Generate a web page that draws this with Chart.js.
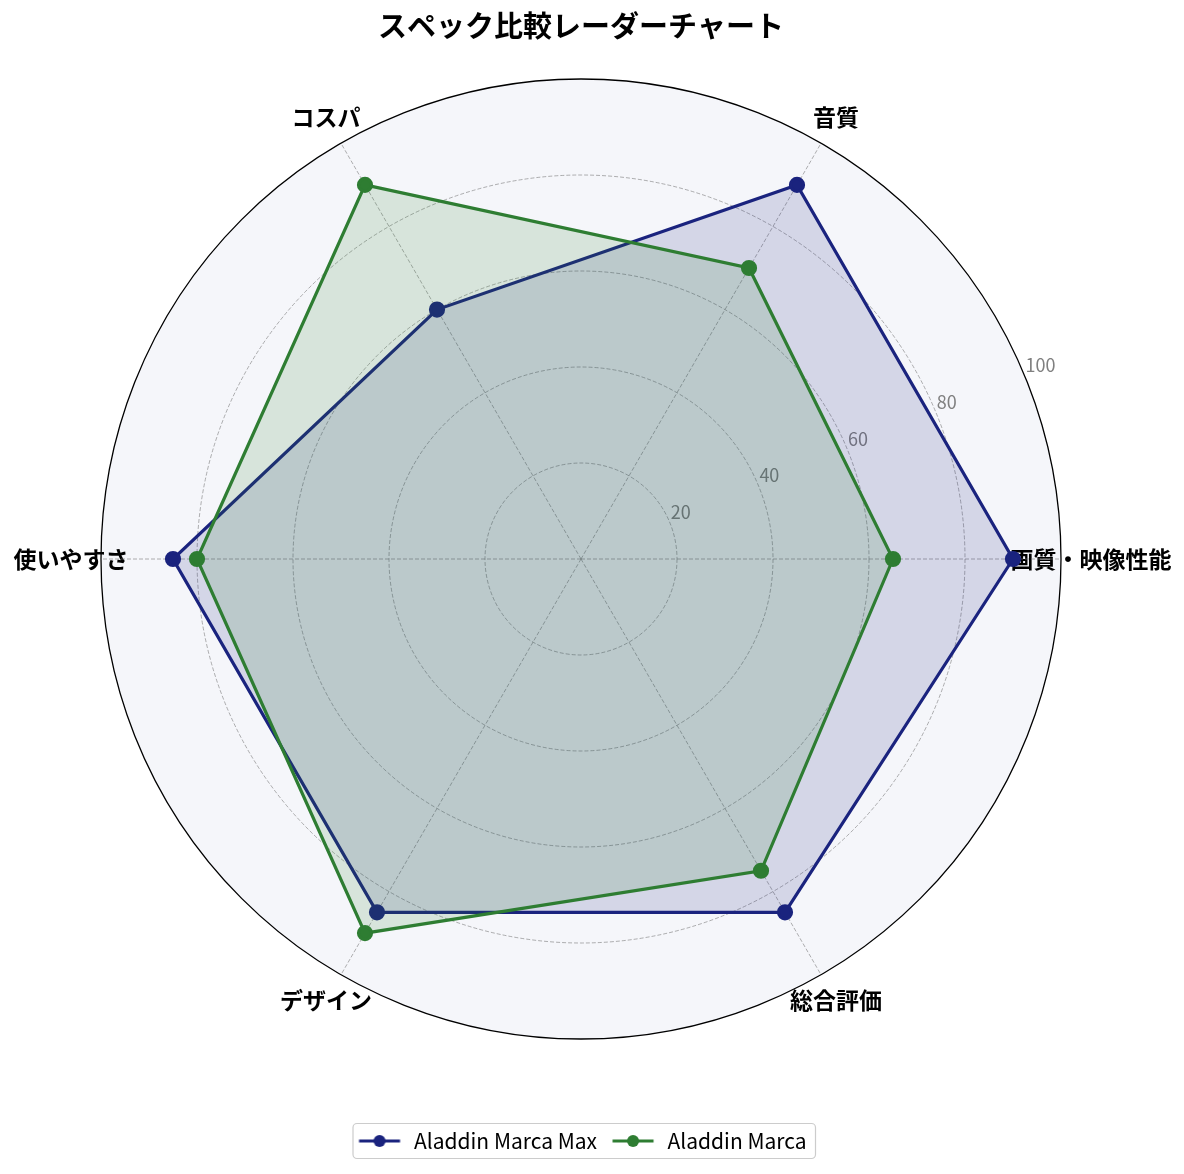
<!DOCTYPE html>
<html lang="ja">
<head>
    <meta charset="UTF-8">
    <title>スペック比較レーダーチャート</title>
    <style>
        html, body { margin: 0; padding: 0; background: #fff; }
        #wrap { width: 1184px; height: 1174px; position: relative; }
    </style>
</head>
<body>
    <div id="wrap"><canvas id="radarChart"></canvas></div>

    <script src="https://cdn.jsdelivr.net/npm/chart.js"></script>
    <script>
        const categories = ['画質・映像性能', '音質', 'コスパ', '使いやすさ', 'デザイン', '総合評価'];
        const maxScores = [90, 90, 60, 85, 85, 85];
        const marcaScores = [65, 70, 90, 80, 90, 75];
        const seriesNames = ['Aladdin Marca Max', 'Aladdin Marca'];
        const tickValues = [20, 40, 60, 80, 100];

        const FONT = "'Noto Sans CJK JP', 'Noto Sans', sans-serif";
        const NAVY = '#1a237e';
        const GREEN = '#2e7d32';

        // 元の図は右から反時計回り、Chart.js は時計回りなので並べ替える
        const order = [0, 5, 4, 3, 2, 1];
        const pick = arr => order.map(i => arr[i]);

        function legendMarker(color) {
            const c = document.createElement('canvas');
            c.width = 48; c.height = 16;
            const g = c.getContext('2d');
            g.strokeStyle = color; g.lineWidth = 3;
            g.beginPath(); g.moveTo(3.5, 8); g.lineTo(44.5, 8); g.stroke();
            g.fillStyle = color;
            g.beginPath(); g.arc(24, 8, 6, 0, Math.PI * 2); g.fill();
            return c;
        }
        const markers = [legendMarker(NAVY), legendMarker(GREEN)];

        const polarDecor = {
            id: 'polarDecor',
            beforeDraw(chart) {
                const r = chart.scales.r;
                const ctx = chart.ctx;
                ctx.save();
                ctx.fillStyle = '#f5f6fa';
                ctx.beginPath();
                ctx.arc(r.xCenter, r.yCenter, r.drawingArea, 0, Math.PI * 2);
                ctx.fill();

                // カテゴリラベル
                ctx.font = 'bold 23px ' + FONT;
                ctx.fillStyle = '#000';
                ctx.textAlign = 'center';
                ctx.textBaseline = 'middle';
                const dist = r.getDistanceFromCenterForValue(106.25);
                chart.data.labels.forEach((lab, i) => {
                    const p = r.getPointPosition(i, dist);
                    ctx.fillText(lab, p.x, p.y);
                });

                // 凡例の枠
                const lg = chart.legend;
                if (lg && lg.legendHitBoxes.length) {
                    const hb = lg.legendHitBoxes;
                    const first = hb[0], last = hb[hb.length - 1];
                    const x0 = first.left - 2.5;
                    const x1 = last.left + last.width + 9;
                    const cy = first.top + 10.5;
                    ctx.fillStyle = 'rgba(255,255,255,0.8)';
                    ctx.strokeStyle = '#cccccc';
                    ctx.lineWidth = 1.2;
                    ctx.beginPath();
                    ctx.roundRect(x0, cy - 17.5, x1 - x0, 35, 4);
                    ctx.fill();
                    ctx.stroke();
                }
                ctx.restore();
            },
            beforeDatasetsDraw(chart) {
                const r = chart.scales.r;
                const ctx = chart.ctx;
                ctx.save();
                ctx.strokeStyle = '#000';
                ctx.lineWidth = 1.3;
                ctx.beginPath();
                ctx.arc(r.xCenter, r.yCenter, r.drawingArea, 0, Math.PI * 2);
                ctx.stroke();

                // 目盛りラベル (22.5度方向)
                const a = 22.5 * Math.PI / 180;
                ctx.font = '18px ' + FONT;
                ctx.fillStyle = '#808080';
                ctx.textAlign = 'left';
                ctx.textBaseline = 'bottom';
                tickValues.forEach(v => {
                    const d = r.getDistanceFromCenterForValue(v);
                    ctx.fillText(String(v), r.xCenter + d * Math.cos(a) + 1, r.yCenter - d * Math.sin(a) - 1);
                });
                ctx.restore();
            }
        };

        const ctx = document.getElementById('radarChart').getContext('2d');
        const chart = new Chart(ctx, {
            type: 'radar',
            data: {
                labels: pick(categories),
                datasets: [{
                    label: seriesNames[0],
                    data: pick(maxScores),
                    borderColor: NAVY,
                    backgroundColor: 'rgba(26,35,126,0.15)',
                    pointBackgroundColor: NAVY,
                    pointBorderColor: NAVY,
                    borderWidth: 3.2,
                    pointRadius: 6.5,
                    fill: true,
                    order: 1
                }, {
                    label: seriesNames[1],
                    data: pick(marcaScores),
                    borderColor: GREEN,
                    backgroundColor: 'rgba(46,125,50,0.15)',
                    pointBackgroundColor: GREEN,
                    pointBorderColor: GREEN,
                    borderWidth: 3.2,
                    pointRadius: 6.5,
                    fill: true,
                    order: 0
                }]
            },
            options: {
                responsive: true,
                maintainAspectRatio: false,
                animation: false,
                layout: { padding: { top: 0, bottom: 12.5, left: 0, right: 22 } },
                scales: {
                    r: {
                        min: 0,
                        max: 100,
                        startAngle: 90,
                        ticks: { stepSize: 20, display: false },
                        pointLabels: { display: false },
                        grid: {
                            circular: true,
                            color: c => (c.tick && c.tick.value >= 100) ? 'rgba(0,0,0,0)' : 'rgba(120,120,120,0.65)',
                            lineWidth: 0.9
                        },
                        border: { dash: [4, 2] },
                        angleLines: {
                            color: 'rgba(120,120,120,0.65)',
                            lineWidth: 0.9,
                            borderDash: [4, 2]
                        }
                    }
                },
                plugins: {
                    title: {
                        display: true,
                        text: 'スペック比較レーダーチャート',
                        color: '#000',
                        font: { family: FONT, size: 29, weight: 'bold', lineHeight: 1.2 },
                        padding: { top: 8.6, bottom: 35.6 }
                    },
                    legend: {
                        position: 'bottom',
                        title: { display: true, text: '', font: { size: 10, lineHeight: 1 }, padding: { top: 69.5, bottom: 0 } },
                        labels: {
                            color: '#000',
                            font: { family: FONT, size: 21 },
                            usePointStyle: true,
                            pointStyleWidth: 48,
                            padding: 12,
                            generateLabels: () => seriesNames.map((name, i) => ({
                                text: name,
                                pointStyle: markers[i],
                                datasetIndex: i,
                                fontColor: '#000',
                                lineWidth: 0
                            }))
                        }
                    },
                    tooltip: { enabled: false }
                },
                elements: { line: { tension: 0 } }
            },
            plugins: [polarDecor]
        });
    </script>
</body>
</html>
